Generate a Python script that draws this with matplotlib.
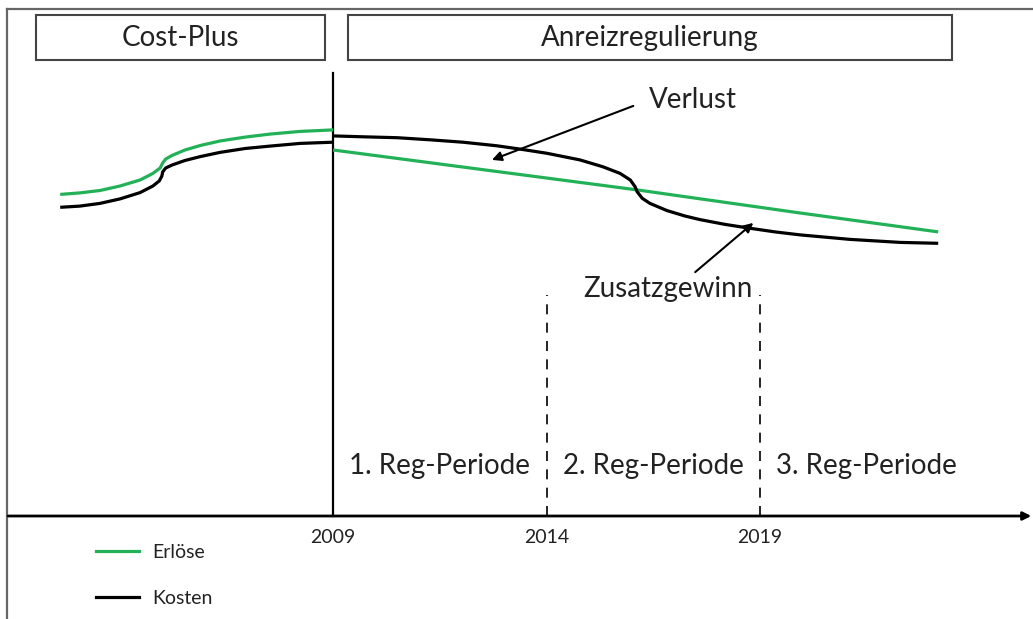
import matplotlib
matplotlib.use('Agg')
import matplotlib.pyplot as plt
from matplotlib.patches import Rectangle

plt.rcParams['font.family'] = ['Lato', 'DejaVu Sans']

# Erlöse (revenue) and Kosten (costs), schematic index values over years
rev_pre_years = [2002.61, 2003.07, 2003.54, 2004.01, 2004.48, 2004.78, 2004.95, 2005.01,
                 2005.08, 2005.23, 2005.53, 2005.89, 2006.35, 2006.94, 2007.52, 2008.23,
                 2009.00]
rev_pre_vals = [107.2, 107.7, 108.5, 110.0, 112.0, 114.2, 116.0, 117.7,
                119.0, 120.2, 122.0, 123.5, 125.0, 126.3, 127.3, 128.2,
                128.7]
cost_pre_years = [2002.61, 2003.07, 2003.54, 2004.01, 2004.48, 2004.78, 2004.93, 2004.99,
                  2005.01, 2005.08, 2005.23, 2005.53, 2005.89, 2006.35, 2006.94, 2007.52,
                  2008.23, 2009.00]
cost_pre_vals = [102.9, 103.3, 104.2, 105.7, 107.8, 110.0, 111.7, 113.3,
                 114.7, 116.0, 117.0, 118.5, 119.8, 121.2, 122.5, 123.3,
                 124.2, 124.6]

rev_post_years = [2009.00, 2016.12, 2019.94, 2023.17]
rev_post_vals = [122.0, 108.7, 101.0, 94.7]
cost_post_years = [2009.00, 2009.70, 2010.50, 2011.27, 2012.04, 2012.84, 2013.38, 2014.01,
                   2014.78, 2015.32, 2015.72, 2015.96, 2016.07, 2016.12, 2016.24, 2016.42,
                   2016.82, 2017.24, 2017.59, 2018.18, 2018.77, 2019.35, 2019.94, 2021.11,
                   2022.28, 2023.17]
cost_post_vals = [126.7, 126.4, 126.1, 125.4, 124.6, 123.4, 122.3, 120.9,
                  118.7, 116.4, 114.2, 112.0, 109.8, 108.1, 105.9, 104.2,
                  101.8, 100.0, 98.8, 97.2, 95.9, 94.7, 93.7, 92.2,
                  91.2, 90.9]

start_year = 2009
period_bounds = [2014, 2019]
tick_years = [2009, 2014, 2019]
period_labels = ['1. Reg-Periode', '2. Reg-Periode', '3. Reg-Periode']
period_centers = [2011.5, 2016.5, 2021.5]

GREEN = '#22b157'
TEXT = '#222222'

fig = plt.figure(figsize=(10.33, 6.19), dpi=100)
ax = fig.add_axes([0, 0, 1, 1])
ax.set_axis_off()
ax.set_xlim(2001.20, 2025.39)
ax.set_ylim(-34.33, 172)

# outer frame (left and top edges)
ax.plot([0.0068, 0.0068], [0, 0.9855], transform=ax.transAxes, color='#666666', lw=1.6)
ax.plot([0.0068, 1], [0.9855, 0.9855], transform=ax.transAxes, color='#666666', lw=1.6)

# regime boxes
for x0, w, label in [(0.0349, 0.2798, 'Cost-Plus'), (0.3369, 0.5847, 'Anreizregulierung')]:
    ax.add_patch(Rectangle((x0, 0.903), w, 0.0727, transform=ax.transAxes,
                           fill=False, edgecolor='#444444', lw=1.5))
    ax.text(x0 + w / 2, 0.903 + 0.0727 / 2, label, transform=ax.transAxes,
            ha='center', va='center', fontsize=20, color=TEXT)

# time axis with arrow
ax.annotate('', xy=(2025.35, 0), xytext=(2001.39, 0),
            arrowprops=dict(arrowstyle='-|>', color='black', lw=2, mutation_scale=12,
                            shrinkA=0, shrinkB=0))
for yr in tick_years:
    ax.text(yr, -7, str(yr), ha='center', va='center', fontsize=14, color=TEXT)

# regime switch and period boundaries
ax.plot([start_year, start_year], [0, 147.7], color='black', lw=1.6)
for yr in period_bounds:
    ax.plot([yr, yr], [0, 73.7], color='black', lw=1.2, linestyle=(0, (6, 5)))
for xc, label in zip(period_centers, period_labels):
    ax.text(xc, 16.7, label, ha='center', va='center', fontsize=20, color=TEXT)

# curves
line_kw = dict(lw=2.3, solid_capstyle='butt', solid_joinstyle='round')
ax.plot(rev_pre_years, rev_pre_vals, color=GREEN, **line_kw)
ax.plot(cost_pre_years, cost_pre_vals, color='black', **line_kw)
ax.plot(rev_post_years, rev_post_vals, color=GREEN, **line_kw)
ax.plot(cost_post_years, cost_post_vals, color='black', **line_kw)

# annotations
ax.text(2017.43, 138.7, 'Verlust', ha='center', va='center', fontsize=20, color=TEXT)
ax.annotate('', xy=(2012.72, 118.7), xytext=(2016.03, 136.7),
            arrowprops=dict(arrowstyle='-|>', color='black', lw=1.5, mutation_scale=14,
                            shrinkA=0, shrinkB=0))
ax.text(2016.85, 75.7, 'Zusatzgewinn', ha='center', va='center', fontsize=20, color=TEXT)
ax.annotate('', xy=(2018.84, 97.7), xytext=(2017.48, 81.3),
            arrowprops=dict(arrowstyle='-|>', color='black', lw=1.5, mutation_scale=14,
                            shrinkA=0, shrinkB=0))

# legend
ax.plot([], [], color=GREEN, lw=2.3, label='Erlöse')
ax.plot([], [], color='black', lw=2.3, label='Kosten')
ax.legend(loc='upper left', bbox_to_anchor=(0.0929, 0.1215), frameon=False,
          fontsize=14, handlelength=2.2, handletextpad=0.7, labelspacing=1.5,
          borderpad=0, borderaxespad=0, labelcolor=TEXT)

fig.savefig('out.png', dpi=100)
